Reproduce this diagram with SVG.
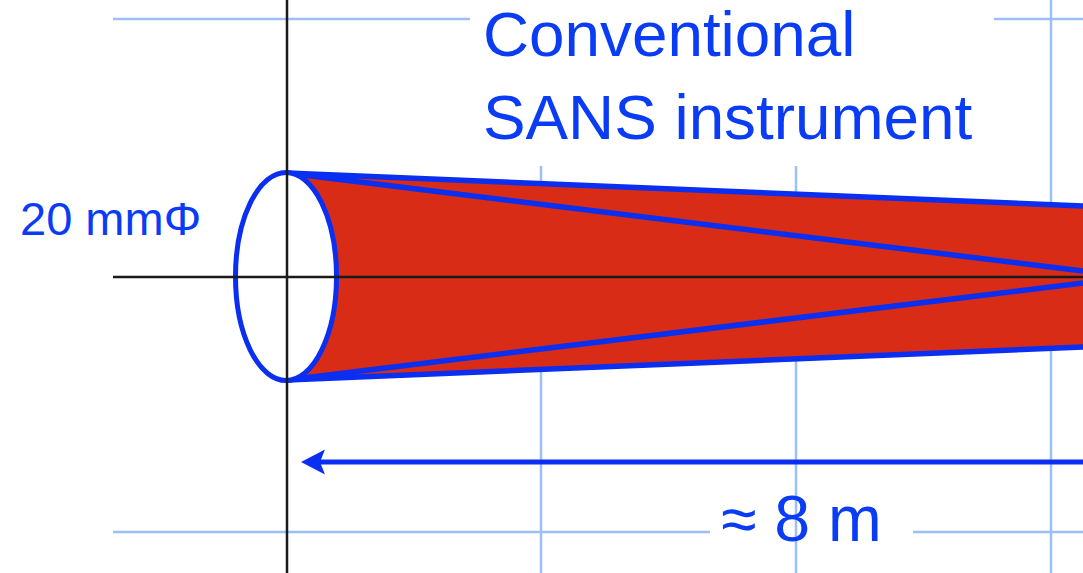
<svg xmlns="http://www.w3.org/2000/svg" width="1083" height="573" viewBox="0 0 1083 573">
<style>
.grid{stroke:#9cbff5;stroke-width:2.500;fill:none}
.axis{stroke:#1a1a1a;stroke-width:2.500;fill:none}
.blue{stroke:#0a2ff0;fill:none}
text{font-family:"Liberation Sans",Arial,sans-serif;fill:#0a3cf5}
</style>
<defs><marker id="arrow" markerUnits="userSpaceOnUse" markerWidth="28" markerHeight="28" refX="8" refY="14" orient="auto"><path d="M1 1.500L25 14L1 26.500L6 14Z" fill="#0a2ff0"/></marker></defs>
<rect width="1083" height="573" fill="#fff"/>
<g id="grid">
<path class="grid" d="M113 19H470M994 19H1083M113 532H710M913 532H1083M541 166V573M796 166V573M1051 0V573"/>
</g>
<g id="beam">
<path d="M287 173L1083 206V347L287 380Z" fill="#d92c16"/>
<path class="blue" stroke-width="5.500" d="M287 173L1083 206M287 380L1083 347M287 173L1083 271M287 380L1083 283"/>
</g>
<g id="aperture"><ellipse cx="286" cy="276.500" rx="50.500" ry="104" fill="#fff" stroke="#0a2ff0" stroke-width="5"/></g>
<g id="axes"><path class="axis" d="M287 0V573M113 277H1083"/></g>
<g id="connectors"><path class="blue" stroke-width="5" d="M1083 462H318" marker-end="url(#arrow)"/></g>
<g id="labels">
<text x="483" y="56" font-size="63.800">Conventional</text>
<text x="483" y="139" font-size="63.800">SANS instrument</text>
<text x="20" y="235" font-size="47">20 mmΦ</text>
<text x="721" y="541" font-size="64.500">≈ 8 m</text>
</g>
</svg>
